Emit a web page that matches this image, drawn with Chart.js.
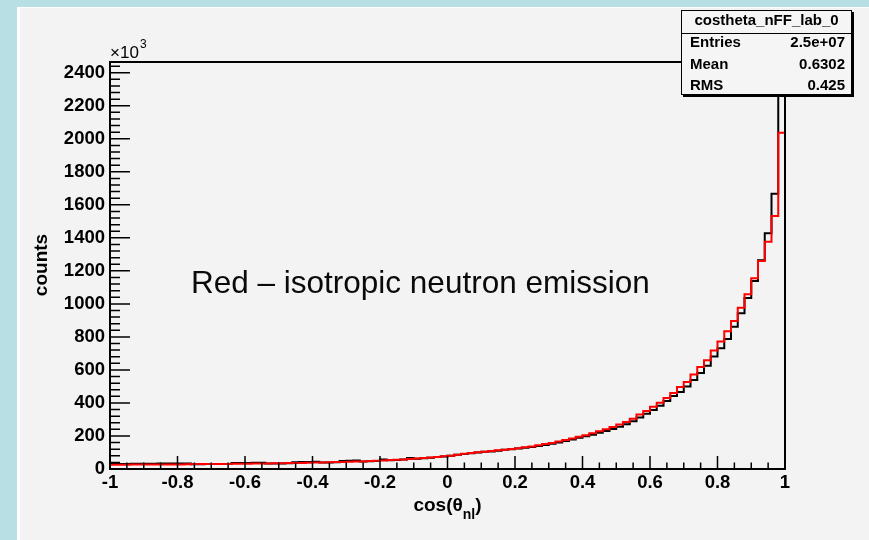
<!DOCTYPE html>
<html>
<head>
<meta charset="utf-8">
<title>costheta_nFF_lab_0</title>
<script src="https://cdn.jsdelivr.net/npm/chart.js@4.4.1/dist/chart.umd.min.js"></script>
<style>
  html, body { margin: 0; padding: 0; background: #b8dfe4; }
  canvas { display: block; }
</style>
</head>
<body>
<canvas id="histo" width="869" height="540"></canvas>
<script>
// histogram definition: 100 bins from -1 to 1
const xLow = -1, xHigh = 1, nBins = 100;

// red - isotropic neutron emission (counts x10^3 per bin)
const isoCounts = [
  26, 26, 26, 27, 27, 27, 27, 28, 28, 28,
  28, 29, 30, 30, 30, 31, 31, 31, 32, 32,
  32, 33, 33, 34, 35, 35, 36, 36, 37, 38,
  39, 40, 41, 42, 43, 44, 45, 46, 48, 50,
  52, 54, 56, 58, 61, 63, 66, 69, 73, 77,
  81, 87, 92, 97, 101, 105, 109, 113, 117, 121,
  126, 131, 137, 144, 151, 158, 166, 175, 184, 195,
  205, 217, 228, 241, 255, 269, 285, 305, 330, 352,
  377, 402, 430, 460, 496, 527, 573, 618, 659, 718,
  772, 834, 897, 976, 1059, 1155, 1260, 1377, 1532, 2036
];

// black - costheta_nFF_lab_0
const labCounts = [
  31, 31, 31, 32, 32, 32, 32, 33, 33, 33,
  33, 34, 29, 29, 30, 30, 31, 30, 37, 37,
  37, 38, 38, 33, 34, 34, 35, 41, 42, 43,
  44, 39, 40, 41, 49, 50, 51, 45, 47, 49,
  57, 53, 55, 57, 66, 62, 65, 68, 72, 76,
  80, 86, 91, 96, 100, 104, 106, 111, 116, 120,
  124, 128, 134, 140, 146, 153, 160, 169, 178, 189,
  198, 208, 219, 230, 243, 256, 271, 289, 312, 334,
  358, 383, 412, 442, 467, 499, 539, 582, 626, 681,
  732, 788, 862, 944, 1036, 1139, 1265, 1428, 1667, 2700
];

const statsTitle = "costheta_nFF_lab_0";
const statsRows = [["Entries", "2.5e+07"], ["Mean", "0.6302"], ["RMS", "0.425"]];

// ROOT style outline: start at 0, one step per bin, back to 0 at the end
function histPoints(counts) {
  var w = (xHigh - xLow) / nBins;
  var pts = [{x: xLow, y: 0}];
  for (var i = 0; i < counts.length; i++) {
    pts.push({x: xLow + i * w, y: counts[i]});
  }
  pts.push({x: xHigh, y: counts[counts.length - 1]});
  pts.push({x: xHigh, y: 0});
  return pts;
}

const FONT = '"Liberation Sans", Arial, Helvetica, sans-serif';

const rootLook = {
  id: 'rootLook',
  beforeDraw(chart) {
    var c = chart.ctx;
    c.save();
    c.fillStyle = '#b8dfe4';
    c.fillRect(0, 0, chart.width, chart.height);
    c.fillStyle = '#ffffff';
    c.fillRect(17, 7, chart.width - 17, chart.height - 7);
    c.fillStyle = '#f3f3f3';
    c.fillRect(20, 8, chart.width - 20, chart.height - 8);
    c.restore();
  },
  afterDatasetsDraw(chart) {
    var c = chart.ctx;
    var a = chart.chartArea;
    var xs = chart.scales.x, ys = chart.scales.y;
    c.save();

    // frame
    c.strokeStyle = '#000';
    c.lineWidth = 2;
    c.strokeRect(a.left, a.top, a.right - a.left, a.bottom - a.top);

    // tick marks drawn inside the frame
    c.lineWidth = 1.5;
    c.beginPath();
    for (var k = 0; k <= 40; k++) {
      var px = xs.getPixelForValue(xLow + k * 0.05);
      var len = (k % 4 === 0) ? 13 : 6.5;
      c.moveTo(px, a.bottom);
      c.lineTo(px, a.bottom - len);
    }
    for (var j = 0; j * 40 <= ys.max; j++) {
      var py = ys.getPixelForValue(j * 40);
      var ylen = (j % 5 === 0) ? 20 : 10;
      c.moveTo(a.left, py);
      c.lineTo(a.left + ylen, py);
    }
    c.stroke();

    // x10^3
    c.fillStyle = '#000';
    c.textBaseline = 'alphabetic';
    c.textAlign = 'left';
    c.font = '17px ' + FONT;
    c.fillText('\u00d710', a.left, 58);
    c.font = '12px ' + FONT;
    c.fillText('3', a.left + 30, 48);

    // axis titles
    c.font = 'bold 19px ' + FONT;
    var t1 = 'cos(\u03b8', t3 = ')';
    var w1 = c.measureText(t1).width, w3 = c.measureText(t3).width;
    c.font = 'bold 14px ' + FONT;
    var w2 = c.measureText('nl').width;
    var x0 = (a.left + a.right) / 2 - (w1 + w2 + w3) / 2;
    c.font = 'bold 19px ' + FONT;
    c.fillText(t1, x0, 511);
    c.fillText(t3, x0 + w1 + w2, 511);
    c.font = 'bold 14px ' + FONT;
    c.fillText('nl', x0 + w1, 519);

    c.save();
    c.translate(47, 265);
    c.rotate(-Math.PI / 2);
    c.textAlign = 'center';
    c.font = 'bold 19px ' + FONT;
    c.fillText('counts', 0, 0);
    c.restore();

    // annotation
    c.font = '31.5px ' + FONT;
    c.fillStyle = '#0a0a0a';
    c.fillText('Red \u2013 isotropic neutron emission', 191, 293);

    // stats box with shadow
    var bx = 681, by = 10, bw = 171, bh = 85;
    c.fillStyle = '#000';
    c.fillRect(bx + 2, by + 2, bw, bh);
    c.fillStyle = '#f5f5f5';
    c.fillRect(bx, by, bw, bh);
    c.strokeStyle = '#000';
    c.lineWidth = 1;
    c.strokeRect(bx + 0.5, by + 0.5, bw - 1, bh - 1);
    c.beginPath();
    c.moveTo(bx, 33.5);
    c.lineTo(bx + bw, 33.5);
    c.stroke();

    c.fillStyle = '#000';
    c.font = 'bold 15px ' + FONT;
    c.textBaseline = 'middle';
    c.textAlign = 'center';
    c.fillText(statsTitle, bx + bw / 2, 21);
    var rowY = [43, 65, 86];
    for (var r = 0; r < statsRows.length; r++) {
      c.textAlign = 'left';
      c.fillText(statsRows[r][0], bx + 9, rowY[r]);
      c.textAlign = 'right';
      c.fillText(statsRows[r][1], bx + bw - 7, rowY[r]);
    }
    c.restore();
  }
};

new Chart(document.getElementById('histo'), {
  type: 'line',
  data: {
    datasets: [{
      label: 'isotropic',
      data: histPoints(isoCounts),
      borderColor: '#ff0000',
      borderWidth: 2,
      pointRadius: 0,
      stepped: true,
      fill: false
    }, {
      label: statsTitle,
      data: histPoints(labCounts),
      borderColor: '#000000',
      borderWidth: 2,
      pointRadius: 0,
      stepped: true,
      fill: false
    }]
  },
  options: {
    responsive: false,
    animation: false,
    devicePixelRatio: 1,
    layout: { padding: { top: 62, right: 84, left: 0, bottom: 0 } },
    plugins: { legend: { display: false }, tooltip: { enabled: false } },
    scales: {
      x: {
        type: 'linear',
        min: xLow,
        max: xHigh,
        grid: { display: false, drawTicks: false },
        border: { display: false },
        ticks: {
          stepSize: 0.2,
          autoSkip: false,
          maxRotation: 0,
          padding: 3,
          color: '#000',
          font: { family: FONT, weight: 'bold', size: 18.5 },
          callback: function (v) { return String(Math.round(v * 10) / 10); }
        },
        afterFit: function (s) { s.height = 71; }
      },
      y: {
        type: 'linear',
        min: 0,
        max: 2465,
        grid: { display: false, drawTicks: false },
        border: { display: false },
        ticks: {
          stepSize: 200,
          includeBounds: false,
          autoSkip: false,
          padding: 5,
          color: '#000',
          font: { family: FONT, weight: 'bold', size: 18.5 },
          callback: function (v) { return String(Math.round(v)); }
        },
        afterFit: function (s) { s.width = 110; }
      }
    }
  },
  plugins: [rootLook]
});
</script>
</body>
</html>
